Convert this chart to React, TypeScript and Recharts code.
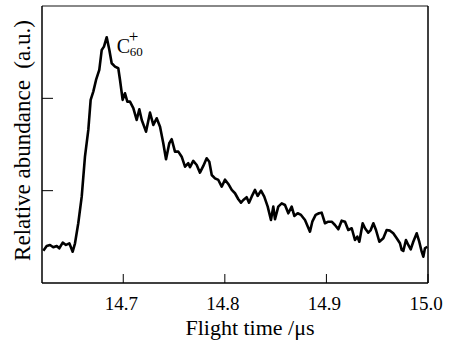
import React from 'react';
import { LineChart, Line, XAxis, YAxis, ReferenceLine, ReferenceDot, Label } from 'recharts';

const times = [
  14.6213, 14.6246, 14.6279, 14.6311, 14.6345, 14.637, 14.6404, 14.6436, 14.6469, 14.6502,
  14.6525, 14.6557, 14.6591, 14.6623, 14.6656, 14.6679, 14.6705, 14.6732, 14.6764, 14.6788,
  14.681, 14.6837, 14.6863, 14.6886, 14.6919, 14.6951, 14.6968, 14.6994, 14.7017, 14.704,
  14.7066, 14.7099, 14.7132, 14.7158, 14.7182, 14.7224, 14.7263, 14.7296, 14.7329, 14.7362,
  14.7394, 14.7421, 14.7453, 14.7477, 14.7509, 14.7542, 14.7575, 14.7608, 14.764, 14.7657,
  14.7689, 14.7723, 14.7755, 14.7788, 14.7821, 14.7847, 14.7871, 14.7903, 14.7936, 14.7969,
  14.8002, 14.8034,
  14.8068, 14.81, 14.8133, 14.8159, 14.8182, 14.8215, 14.8238, 14.8264, 14.8297, 14.8323,
  14.8356, 14.8388, 14.8422, 14.8454, 14.8477, 14.8494, 14.8526, 14.856, 14.8592, 14.8625,
  14.8658, 14.8684, 14.8717, 14.875, 14.8789, 14.8838, 14.8861, 14.8894, 14.8927, 14.8953,
  14.8986, 14.9019, 14.9052, 14.9084, 14.9117, 14.915, 14.9183, 14.9215, 14.9249, 14.9281,
  14.9304, 14.9324, 14.9357, 14.938, 14.9412, 14.9436, 14.9462, 14.9488, 14.9521, 14.956,
  14.9593, 14.9626, 14.9658, 14.9692, 14.9724, 14.9741, 14.9757, 14.9783, 14.9806, 14.983,
  14.9855, 14.9889, 14.9914, 14.9938, 14.9954, 14.997, 14.9993,
];

const abundance = [
  0.35, 0.401, 0.412, 0.387, 0.401, 0.376, 0.437, 0.412, 0.43, 0.339,
  0.43, 0.647, 0.935, 1.368, 1.658, 1.983, 2.073, 2.199, 2.308, 2.524,
  2.56, 2.662, 2.524, 2.38, 2.343, 2.326, 2.199, 1.983, 2.055, 1.964,
  1.964, 1.893, 1.766, 1.882, 1.766, 1.639, 1.845, 1.712, 1.784, 1.693,
  1.514, 1.34, 1.514, 1.557, 1.423, 1.423, 1.368, 1.26, 1.297, 1.254,
  1.322, 1.278, 1.195, 1.268, 1.351, 1.314, 1.17, 1.134, 1.116, 1.043,
  1.119, 1.073,
  1.008, 0.972, 0.907, 0.87, 0.899, 0.929, 0.87, 0.935, 1.008, 0.943,
  1.0, 0.935, 0.827, 0.683, 0.827, 0.69, 0.827, 0.863, 0.845, 0.755,
  0.827, 0.726, 0.755, 0.737, 0.683, 0.556, 0.664, 0.737, 0.755, 0.762,
  0.647, 0.664, 0.664, 0.628, 0.582, 0.675, 0.664, 0.574, 0.593, 0.466,
  0.502, 0.447, 0.647, 0.593, 0.545, 0.574, 0.647, 0.574, 0.447, 0.484,
  0.574, 0.567, 0.538, 0.484, 0.43, 0.358, 0.347, 0.466, 0.412, 0.365,
  0.447, 0.538, 0.447, 0.339, 0.285, 0.376, 0.393,
];

const xTicks = [14.7, 14.8, 14.9, 15.0];
const yTicks = [1, 2];
const xDomain = [14.62, 15.0];
const yDomain = [0, 3];
const xTitle = 'Flight time /\u03bcs';
const yTitle = 'Relative abundance\u00a0\u00a0(a.u.)';
const peakTime = 14.6837;
const peakValue = 2.662;

const data = times.map((t, i) => ({ t, v: abundance[i] }));

const FONT = "'Liberation Serif', 'Times New Roman', serif";
const fontStyle = { fontFamily: FONT };

const XTick = (props: any) => {
  const { x, y, payload } = props;
  return (
    <g>
      <line x1={x} y1={y} x2={x} y2={y - 9} stroke="#000" strokeWidth={1} />
      <text x={x - 2} y={y + 27} textAnchor="middle" style={fontStyle} fontSize={19} fill="#000">
        {Number(payload.value).toFixed(1)}
      </text>
    </g>
  );
};

const YTick = (props: any) => {
  const { x, y } = props;
  return <line x1={x} y1={y} x2={x + 11} y2={y} stroke="#000" strokeWidth={1} />;
};

const XTitle = (props: any) => {
  const vb = props.viewBox || { x: 42, y: 283, width: 386, height: 58 };
  const cx = vb.x + vb.width / 2 + 15;
  return (
    <text x={cx} y={vb.y + 52} textAnchor="middle" style={fontStyle} fontSize={22} fill="#000">
      {xTitle}
    </text>
  );
};

const YTitle = (props: any) => {
  const vb = props.viewBox || { x: 0, y: 6, width: 42, height: 277 };
  const cx = vb.x + 30;
  const cy = vb.y + vb.height / 2 - 4;
  return (
    <text
      x={cx}
      y={cy}
      textAnchor="middle"
      fontSize={23}
      fill="#000"
      transform={`rotate(-90, ${cx}, ${cy})`}
      style={{ fontFamily: FONT, whiteSpace: 'pre' }}
    >
      {yTitle}
    </text>
  );
};

const PeakLabel = (props: any) => {
  const vb = props.viewBox || { x: 0, y: 0, width: 0, height: 0 };
  const px = vb.x + vb.width / 2;
  const py = vb.y + vb.height / 2;
  return (
    <g style={fontStyle} fill="#000">
      <text x={px + 10} y={py + 16} fontSize={20} style={fontStyle}>C</text>
      <text x={px + 22} y={py + 5} fontSize={17} style={fontStyle}>+</text>
      <text x={px + 23} y={py + 19} fontSize={13} style={fontStyle}>60</text>
    </g>
  );
};

export default function App() {
  return (
    <div style={{ position: 'absolute', left: 0, top: 0, width: 457, height: 341, background: '#fff' }}>
      <LineChart
        width={457}
        height={341}
        data={data}
        margin={{ top: 6, right: 29, left: 0, bottom: 0 }}
        style={fontStyle}
      >
        <XAxis
          dataKey="t"
          type="number"
          domain={xDomain}
          ticks={xTicks}
          allowDataOverflow
          height={58}
          tickSize={0}
          tickMargin={0}
          tickLine={false}
          axisLine={{ stroke: '#000', strokeWidth: 1.5 }}
          tick={(p: any) => <XTick {...p} />}
          interval={0}
        >
          <Label content={(p: any) => <XTitle {...p} />} />
        </XAxis>
        <YAxis
          type="number"
          domain={yDomain}
          ticks={yTicks}
          allowDataOverflow
          width={42}
          tickSize={0}
          tickMargin={0}
          tickLine={false}
          axisLine={{ stroke: '#000', strokeWidth: 1.5 }}
          tick={(p: any) => <YTick {...p} />}
          interval={0}
        >
          <Label content={(p: any) => <YTitle {...p} />} />
        </YAxis>
        <ReferenceLine y={3} stroke="#888" strokeWidth={2} />
        <ReferenceLine x={15} stroke="#000" strokeWidth={1.5} />
        <Line
          dataKey="v"
          type="linear"
          stroke="#000"
          strokeWidth={2.6}
          strokeLinejoin="round"
          dot={false}
          isAnimationActive={false}
        />
        <ReferenceDot
          x={peakTime}
          y={peakValue}
          r={1}
          fill="none"
          stroke="none"
          label={(p: any) => <PeakLabel {...p} />}
        />
      </LineChart>
    </div>
  );
}
